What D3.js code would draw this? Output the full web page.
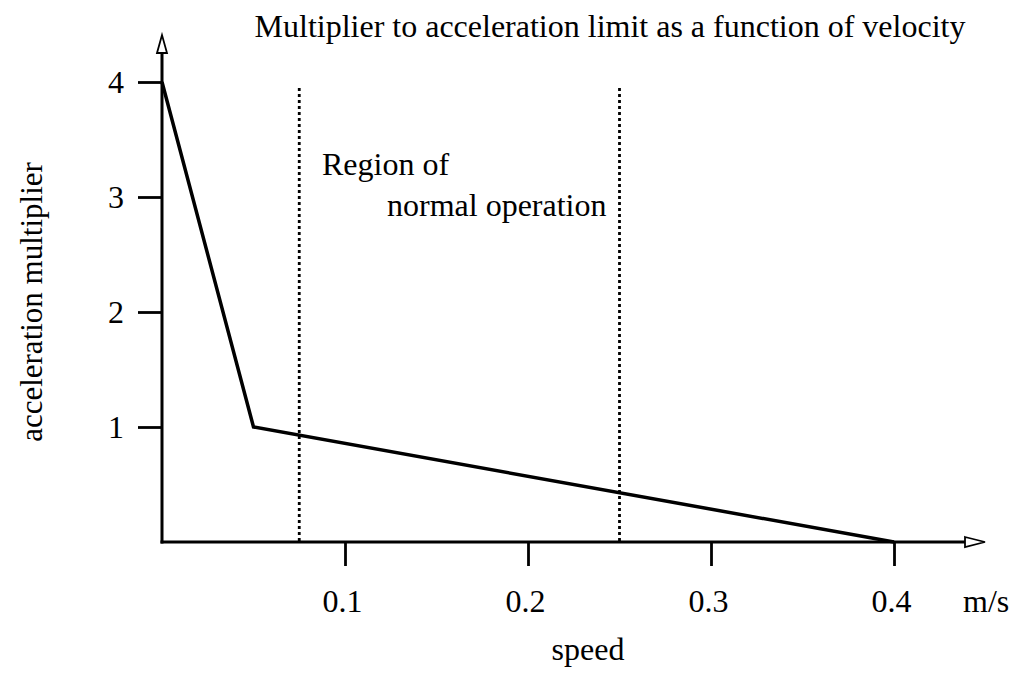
<!DOCTYPE html>
<html>
<head>
<meta charset="utf-8">
<script src="https://cdn.jsdelivr.net/npm/d3@7"></script>
<style>
body{margin:0;background:#fff;}
svg text{font-family:"Liberation Serif","Times New Roman",serif;fill:#000;}
</style>
</head>
<body>
<div id="myPlot"></div>
<script>
// curve points (speed m/s, multiplier)
const speeds = [0, 0.05, 0.4];
const multipliers = [4, 1, 0];
const xTicks = [0.1, 0.2, 0.3, 0.4];
const yTicks = [1, 2, 3, 4];
const regionBounds = [0.075, 0.25];

const width = 1015;
const height = 691;
const fontSize = 32;

const svg = d3.select("#myPlot").append("svg")
  .attr("width", width)
  .attr("height", height);

const x = d3.scaleLinear().domain([0, 0.4]).range([162, 894]);
const y = d3.scaleLinear().domain([0, 4]).range([542, 82]);
const xEnd = 985;
const yTop = 35;

// axes
const xAxis = svg.append("g")
  .attr("transform", "translate(0," + y(0) + ")")
  .call(d3.axisBottom(x).tickValues(xTicks).tickSize(24).tickFormat(d3.format(".1f")));
xAxis.select(".domain").remove();
xAxis.selectAll("line").attr("stroke-width", 2.8);
xAxis.selectAll("text").style("font-size", fontSize + "px").attr("dy", 0).attr("y", 70).attr("dx", -3);

const yAxis = svg.append("g")
  .attr("transform", "translate(" + x(0) + ",0)")
  .call(d3.axisLeft(y).tickValues(yTicks).tickSize(24).tickFormat(d3.format("d")));
yAxis.select(".domain").remove();
yAxis.selectAll("line").attr("stroke-width", 2.8);
yAxis.selectAll("text").style("font-size", fontSize + "px").attr("x", -38).attr("dy", "0.34em");

// axis lines with open arrowheads
svg.append("line")
  .attr("x1", x(0) - 1.5).attr("x2", xEnd - 18)
  .attr("y1", y(0)).attr("y2", y(0))
  .attr("stroke", "#000").attr("stroke-width", 3);
svg.append("path")
  .attr("d", `M${xEnd - 20},${y(0) - 5}L${xEnd},${y(0)}L${xEnd - 20},${y(0) + 5}Z`)
  .attr("fill", "#fff").attr("stroke", "#000").attr("stroke-width", 1.8);

svg.append("line")
  .attr("x1", x(0)).attr("x2", x(0))
  .attr("y1", y(0) + 1.5).attr("y2", yTop + 16)
  .attr("stroke", "#000").attr("stroke-width", 3);
svg.append("path")
  .attr("d", `M${x(0) - 5},${yTop + 18}L${x(0)},${yTop}L${x(0) + 5},${yTop + 18}Z`)
  .attr("fill", "#fff").attr("stroke", "#000").attr("stroke-width", 1.8);

// region of normal operation
svg.selectAll(".region")
  .data(regionBounds)
  .enter()
  .append("line")
  .attr("class", "region")
  .attr("x1", (d) => x(d)).attr("x2", (d) => x(d))
  .attr("y1", 88).attr("y2", y(0))
  .attr("stroke", "#000").attr("stroke-width", 2.8)
  .attr("stroke-dasharray", "3,3");

// curve
const line = d3.line()
  .x((d, i) => x(speeds[i]))
  .y((d, i) => y(multipliers[i]));
svg.append("path")
  .datum(speeds)
  .attr("d", line)
  .attr("fill", "none")
  .attr("stroke", "#000")
  .attr("stroke-width", 3.5)
  .attr("stroke-linejoin", "miter");

// texts
svg.append("text")
  .attr("x", 610).attr("y", 37)
  .attr("text-anchor", "middle")
  .style("font-size", fontSize + "px")
  .text("Multiplier to acceleration limit as a function of velocity");

svg.append("text")
  .attr("x", 322).attr("y", 175)
  .style("font-size", fontSize + "px")
  .text("Region of");
svg.append("text")
  .attr("x", 387).attr("y", 216)
  .style("font-size", fontSize + "px")
  .text("normal operation");

svg.append("text")
  .attr("x", 963).attr("y", 612)
  .style("font-size", fontSize + "px")
  .text("m/s");

svg.append("text")
  .attr("x", 588).attr("y", 660)
  .attr("text-anchor", "middle")
  .style("font-size", fontSize + "px")
  .text("speed");

svg.append("text")
  .attr("transform", "translate(42,302) rotate(-90)")
  .attr("text-anchor", "middle")
  .style("font-size", "31px")
  .text("acceleration multiplier");
</script>
</body>
</html>
